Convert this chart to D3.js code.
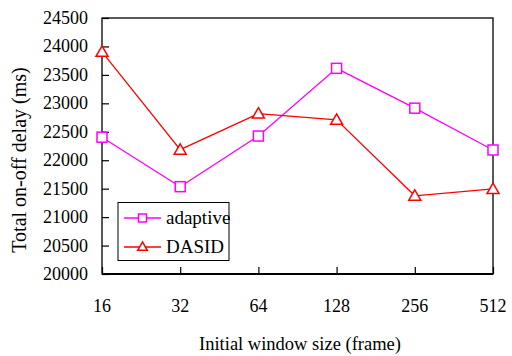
<!DOCTYPE html>
<html>
<head>
<meta charset="utf-8">
<script src="https://cdn.jsdelivr.net/npm/d3@7"></script>
<style>
  body { margin: 0; background: #fff; }
  text { font-family: "Liberation Serif", "Times New Roman", serif; fill: #000; }
</style>
</head>
<body>
<svg id="chart" width="512" height="356"></svg>
<script>
// data
var windowSizes = ["16", "32", "64", "128", "256", "512"];
var adaptive = [22405, 21535, 22425, 23615, 22915, 22180];
var dasid = [23905, 22185, 22820, 22710, 21375, 21495];
var yTicks = [20000, 20500, 21000, 21500, 22000, 22500, 23000, 23500, 24000, 24500];

var svg = d3.select('#chart');
var plotL = 102, plotR = 493, plotT = 18, plotB = 274;

var x = d3.scalePoint().domain(windowSizes).range([plotL, plotR]);
var y = d3.scaleLinear().domain([20000, 24500]).range([plotB, plotT]);

// frame
svg.append('rect')
  .attr('x', plotL).attr('y', plotT)
  .attr('width', plotR - plotL).attr('height', plotB - plotT)
  .attr('fill', 'none').attr('stroke', '#000').attr('stroke-width', 1.3);

// y axis, ticks inward
var yAxis = svg.append('g')
  .attr('transform', 'translate(' + plotL + ',0)')
  .call(d3.axisRight(y).tickValues(yTicks).tickSize(7).tickFormat(''));
yAxis.select('.domain').remove();
yAxis.selectAll('line').attr('stroke', '#000').attr('stroke-width', 1.2);

svg.selectAll('.ylab')
  .data(yTicks)
  .enter()
  .append('text')
  .attr('class', 'ylab')
  .attr('x', plotL - 14)
  .attr('y', function(d) { return y(d) + 6; })
  .attr('text-anchor', 'end')
  .attr('font-size', 18)
  .text(function(d) { return d; });

// x axis, ticks inward
var xAxis = svg.append('g')
  .attr('transform', 'translate(0,' + plotB + ')')
  .call(d3.axisTop(x).tickSize(7).tickFormat(''));
xAxis.select('.domain').remove();
xAxis.selectAll('line').attr('stroke', '#000').attr('stroke-width', 1.2);
svg.append('line')
  .attr('x1', plotL).attr('x2', plotR)
  .attr('y1', plotB).attr('y2', plotB)
  .attr('stroke', '#000').attr('stroke-width', 2);

svg.selectAll('.xlab')
  .data(windowSizes)
  .enter()
  .append('text')
  .attr('class', 'xlab')
  .attr('x', function(d) { return x(d); })
  .attr('y', 312)
  .attr('text-anchor', 'middle')
  .attr('font-size', 18)
  .text(function(d) { return d; });

svg.append('text')
  .attr('x', 300)
  .attr('y', 350)
  .attr('text-anchor', 'middle')
  .attr('font-size', 18.5)
  .text('Initial window size (frame)');

svg.append('text')
  .attr('transform', 'translate(26,160) rotate(-90)')
  .attr('text-anchor', 'middle')
  .attr('font-size', 20)
  .text('Total on-off delay (ms)');

var line = d3.line()
  .x(function(d, i) { return x(windowSizes[i]); })
  .y(function(d) { return y(d); });

var tri = d3.symbol().type(d3.symbolTriangle).size(62);
var smallTri = d3.symbol().type(d3.symbolTriangle).size(40);

function drawSeries(values, color, marker) {
  svg.append('path')
    .datum(values)
    .attr('d', line)
    .attr('fill', 'none')
    .attr('stroke', color)
    .attr('stroke-width', 1.3);

  if (marker === 'square') {
    svg.selectAll(null)
      .data(values)
      .enter()
      .append('rect')
      .attr('x', function(d, i) { return x(windowSizes[i]) - 5; })
      .attr('y', function(d) { return y(d) - 5; })
      .attr('width', 10).attr('height', 10)
      .attr('fill', '#fff').attr('stroke', color).attr('stroke-width', 1.5);
  } else {
    svg.selectAll(null)
      .data(values)
      .enter()
      .append('path')
      .attr('d', tri)
      .attr('transform', function(d, i) { return 'translate(' + x(windowSizes[i]) + ',' + (y(d) + 1) + ')'; })
      .attr('fill', '#fff').attr('stroke', color).attr('stroke-width', 1.5);
  }
}

drawSeries(adaptive, '#ff00ff', 'square');
drawSeries(dasid, '#ff0000', 'triangle');

// legend
var legend = svg.append('g');
legend.append('rect')
  .attr('x', 118).attr('y', 202.5)
  .attr('width', 111).attr('height', 58)
  .attr('fill', '#fff').attr('stroke', '#000').attr('stroke-width', 1);

var legendItems = [
  { name: 'adaptive', color: '#ff00ff', marker: 'square' },
  { name: 'DASID', color: '#ff0000', marker: 'triangle' }
];

legendItems.forEach(function(item, i) {
  var cy = 218 + i * 29;
  legend.append('line')
    .attr('x1', 124).attr('x2', 161)
    .attr('y1', cy).attr('y2', cy)
    .attr('stroke', item.color).attr('stroke-width', 1.3);
  if (item.marker === 'square') {
    legend.append('rect')
      .attr('x', 142.5 - 4).attr('y', cy - 4)
      .attr('width', 8).attr('height', 8)
      .attr('fill', '#fff').attr('stroke', item.color).attr('stroke-width', 1.5);
  } else {
    legend.append('path')
      .attr('d', smallTri)
      .attr('transform', 'translate(142.5,' + (cy + 0.5) + ')')
      .attr('fill', '#fff').attr('stroke', item.color).attr('stroke-width', 1.5);
  }
  legend.append('text')
    .attr('x', 166)
    .attr('y', cy + 6)
    .attr('font-size', 19)
    .text(item.name);
});
</script>
</body>
</html>
